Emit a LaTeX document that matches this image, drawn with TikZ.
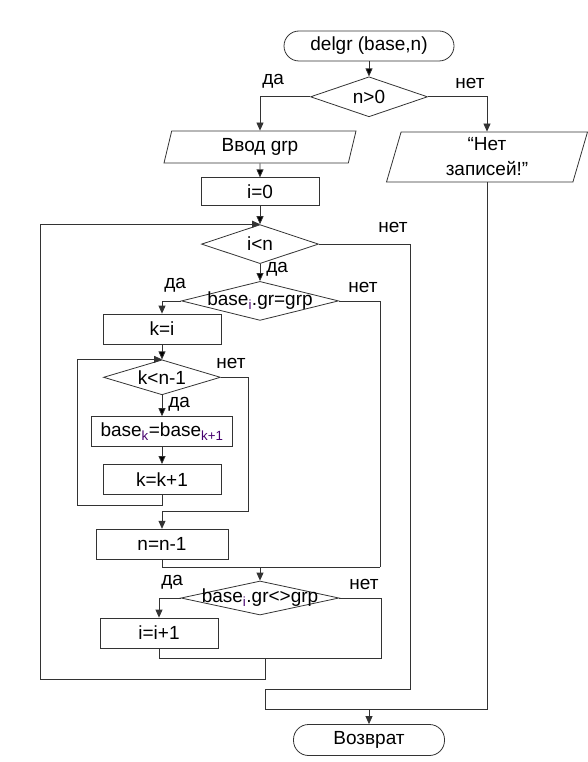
\documentclass[tikz,border=0pt]{standalone}
\usepackage{fontspec}
\setmainfont{Liberation Sans}
\usetikzlibrary{positioning,shapes.geometric,arrows.meta}
\definecolor{alaind}{RGB}{70,0,110}
\newcommand{\ala}[1]{\textsubscript{\color{alaind}#1}}

\begin{document}
\begin{tikzpicture}[x=1pt, y=-1pt, line width=0.8pt,
    every node/.style={font=\fontsize{19}{25}\selectfont},
    viiva/.style={draw=black!80},
    nuoli/.style={draw=black!80, -{Triangle[length=8pt,width=7pt]}},
    teksti/.style={inner sep=2pt},
    ylos/.style={teksti, yshift=6pt},
    sivu/.style={teksti, right, xshift=4pt},
    paate/.style={draw=black!80, rectangle, rounded corners=15pt, minimum height=30pt},
    lohko/.style={draw=black!80, rectangle, minimum width=118pt, minimum height=30pt},
    syote/.style={draw=black!80, trapezium, trapezium left angle=72, trapezium right angle=108,
                  trapezium stretches body, align=center},
    ehto/.style={draw=black!80, diamond, inner sep=0pt}]

\useasboundingbox (0,0) rectangle (588,762);

\node[paate, minimum width=170pt] (N0) at (369,46) {delgr (base,n)};
\node[ehto, minimum width=117pt, minimum height=40pt, label=center:{n>0}] (N1) [below=15pt of N0] {};
\node[syote, minimum width=192pt, minimum height=32pt] (N2) at (260,147) {Ввод grp};
\node[syote, minimum width=201pt, minimum height=50pt] (N3) at (487,157) {“Нет\\записей!”};
\node[lohko, minimum height=28pt] (N4) [below=14pt of N2] {i=0};
\node[ehto, minimum width=117pt, minimum height=39pt, label=center:{i<n}] (N5) [below=18pt of N4] {};
\node[ehto, minimum width=157pt, minimum height=39pt, label=center:{base\ala{i}.gr=grp}] (N6) [below=17pt of N5] {};
\node[lohko] (N7) at (162,329) {k=i};
\node[ehto, minimum width=117pt, minimum height=35pt, label=center:{k<n-1}] (N8) [below=15pt of N7] {};
\node[lohko, minimum width=141pt] (N9) [below=21pt of N8] {base\ala{k}=base\ala{k+1}};
\node[lohko] (N10) [below=17pt of N9] {k=k+1};
\node[lohko, minimum width=132pt] (N11) [below=34pt of N10] {n=n-1};
\node[ehto, minimum width=158pt, minimum height=34pt, label=center:{base\ala{i}.gr<>grp}] (N12) at (260,598) {};
\node[lohko] (N13) at (159,633) {i=i+1};
\node[paate, minimum width=151pt, minimum height=31pt] (N14) at (369,740) {Возврат};

\coordinate (K1) at (380,567);
\coordinate (K2) at (265,709);
\coordinate (K3) at (265,658);

\path[nuoli]
    (N0) edge (N1)
    (N2) edge (N4)
    (N4) edge (N5)
    (N5) edge node[sivu, pos=0.3] {да} (N6)
    (N7) edge (N8)
    (N8) edge node[sivu, pos=0.45] {да} (N9)
    (N9) edge (N10);

\draw[nuoli] (N1.west) -| node[ylos, above right] {да} (N2.north);
\draw[nuoli] (N1.east) -| node[ylos, above left] {нет} (N3.north);
\draw[nuoli] (N6.west) -| node[ylos, above right] {да} (N7.north);
\draw[nuoli] (N12.west) -| node[ylos, above right] {да} (N13.north);

% inner loop
\draw[nuoli] (N8.east) -| node[ylos, above left] {нет} (248,511) -| (N11.north);
\draw[nuoli] (N10.south) |- (77,505) |- (N8.north);

\draw[viiva] (N6.east) -| node[ylos, above left] {нет} (K1);
\draw[viiva] (N11.south) |- (K1);
\draw[nuoli] (K1 -| N12) -- (N12.north);

% outer loop
\draw[viiva] (N12.east) -| node[ylos, above left] {нет} (381,658) -| (N13.south);
\draw[nuoli] (K3) |- (40,679) |- (N5.north);

\draw[viiva] (N5.east) -| node[ylos, above left, yshift=3pt] {нет} (410,689) -| (K2);
\draw[viiva] (N3.south) |- (K2);
\draw[nuoli] (K2 -| N14) -- (N14.north);
\end{tikzpicture}
\end{document}
